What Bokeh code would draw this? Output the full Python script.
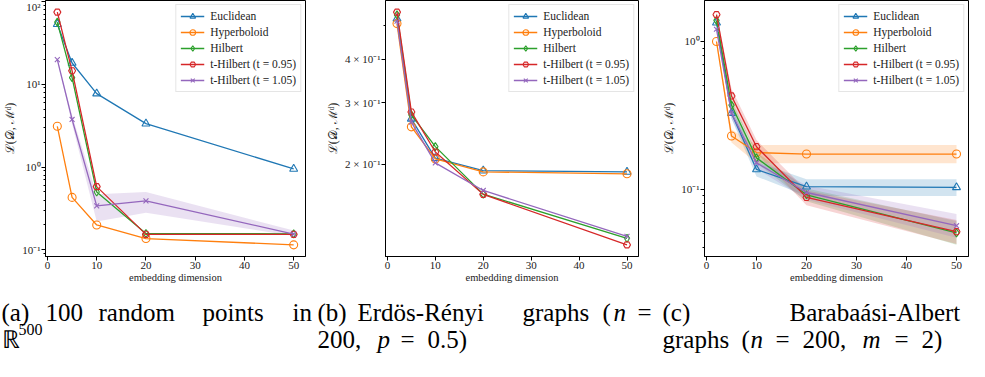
from bokeh.plotting import figure
from bokeh.models import Range1d, FixedTicker, ColumnDataSource, LabelSet
from bokeh.layouts import column, row
from bokeh.embed import file_html
from bokeh.resources import INLINE
from bokeh.core.properties import value
import math

# ---------------- data ----------------
dims = [2, 5, 10, 20, 50]
series_names = ["Euclidean", "Hyperboloid", "Hilbert",
                "t-Hilbert (t = 0.95)", "t-Hilbert (t = 1.05)"]

# (a) 100 random points
a_euclid = [53, 18, 7.7, 3.34, 0.95]
a_hyper = [3.1, 0.43, 0.2, 0.137, 0.115]
a_hilbert = [56, 12, 0.5, 0.158, 0.156]
a_t095 = [74, 14.5, 0.58, 0.154, 0.154]
a_t105 = [19.8, 3.75, 0.34, 0.39, 0.155]
a_t105_lo = [19.0, 3.3, 0.22, 0.28, 0.147]
a_t105_hi = [20.6, 4.2, 0.47, 0.50, 0.171]

# (b) Erdos-Renyi graphs
b_euclid = [0.524, 0.270, 0.208, 0.1915, 0.190]
b_hyper = [0.507, 0.256, 0.207, 0.190, 0.1876]
b_hilbert = [0.537, 0.277, 0.2246, 0.164, 0.1224]
b_t095 = [0.547, 0.2825, 0.2167, 0.1637, 0.1172]
b_t105 = [0.515, 0.264, 0.2017, 0.168, 0.124]

# (c) Barabasi-Albert graphs
c_euclid = [1.34, 0.327, 0.136, 0.104, 0.103]
c_hyper = [1.0, 0.229, 0.177, 0.173, 0.173]
c_hilbert = [1.39, 0.371, 0.163, 0.0917, 0.0506]
c_t095 = [1.52, 0.428, 0.194, 0.088, 0.0516]
c_t105 = [1.21, 0.327, 0.151, 0.095, 0.0566]
c_euclid_lo = [1.30, 0.30, 0.122, 0.090, 0.090]
c_euclid_hi = [1.38, 0.36, 0.153, 0.117, 0.117]
c_hyper_lo = [0.95, 0.207, 0.150, 0.150, 0.150]
c_hyper_hi = [1.05, 0.254, 0.199, 0.199, 0.199]
c_hilbert_lo = [1.34, 0.34, 0.150, 0.083, 0.042]
c_hilbert_hi = [1.44, 0.40, 0.178, 0.101, 0.061]
c_t095_lo = [1.46, 0.381, 0.175, 0.078, 0.0425]
c_t095_hi = [1.58, 0.478, 0.215, 0.098, 0.062]
c_t105_lo = [1.16, 0.30, 0.138, 0.085, 0.047]
c_t105_hi = [1.26, 0.355, 0.165, 0.106, 0.068]

x_ticks = [0, 10, 20, 30, 40, 50]

a_yticks = [0.1, 1, 10, 100]
a_ytick_labels = ["10⁻¹", "10⁰", "10¹", "10²"]
b_yticks = [0.2, 0.3, 0.4]
b_ytick_labels = ["2 × 10⁻¹", "3 × 10⁻¹", "4 × 10⁻¹"]
c_yticks = [0.1, 1]
c_ytick_labels = ["10⁻¹", "10⁰"]

x_label = "embedding dimension"
y_label = "ℒ(𝒟, ℳᵈ)"

cap_words = ["(a)", "100", "random", "points", "in", "ℝ", "500",
             "(b)", "Erdös-Rényi", "graphs", "(", "n", "=", "200,", "p", "=", "0.5)",
             "(c)", "Barabaási-Albert", "graphs", "(", "n", "=", "200,", "m", "=", "2)"]

# ---------------- styles / layout ----------------
colors = ["#1f77b4", "#ff7f0e", "#2ca02c", "#d62728", "#9467bd"]
markers = ["triangle", "circle", "diamond", "hex", "x"]
msizes = [8, 8, 8, 7, 7]
SERIF = "Liberation Serif"

ROW_H = 285
CAP_H = 74
cap_italic = {"n", "p", "m"}
cap_page_x = [9, 53, 106, 210, 300, 9, 26,
              325, 365, 530, 610, 621, 645, 325, 385, 408, 435,
              670, 797, 670, 749, 758, 783, 810, 870, 902, 929]
line1_y, line2_y, sup_y = 328, 355, 342
cap_page_y = [line1_y] * 5 + [line2_y, sup_y] + \
             [line1_y] * 6 + [line2_y] * 4 + \
             [line1_y] * 2 + [line2_y] * 8


def minor_ticks(lo, hi):
    out = []
    for e in range(-3, 3):
        for m in range(2, 10):
            v = m * 10.0 ** e
            if lo <= v <= hi:
                out.append(v)
    return out


def make_panel(series, bands, yticks, ylabels, width, bl, br):
    allv = [v for s in series for v in s]
    for b in bands:
        if b is not None:
            allv += b[0] + b[1]
    lmin, lmax = math.log10(min(allv)), math.log10(max(allv))
    m = 0.05 * (lmax - lmin)
    y0, y1 = 10 ** (lmin - m), 10 ** (lmax + m)
    xm = 0.05 * (max(dims) - min(dims))

    p = figure(width=width, height=ROW_H, y_axis_type="log", title=None,
               x_range=Range1d(min(dims) - xm, max(dims) + xm),
               y_range=Range1d(y0, y1),
               output_backend="svg", toolbar_location=None,
               min_border_left=bl, min_border_right=br,
               min_border_top=0, min_border_bottom=25)
    p.xgrid.visible = False
    p.ygrid.visible = False
    p.outline_line_color = "black"
    p.outline_line_width = 1
    p.background_fill_color = "white"
    p.border_fill_color = "white"

    for i, b in enumerate(bands):
        if b is not None:
            p.varea(x=dims, y1=b[0], y2=b[1], fill_color=colors[i], fill_alpha=0.2)
    for i, s in enumerate(series):
        src = ColumnDataSource(dict(x=dims, y=s))
        p.line("x", "y", source=src, line_color=colors[i], line_width=1.3,
               legend_label=series_names[i])
        p.scatter("x", "y", source=src, marker=markers[i], size=msizes[i],
                  line_color=colors[i], fill_color=None, line_width=1.1,
                  legend_label=series_names[i])

    p.xaxis.ticker = FixedTicker(ticks=x_ticks)
    mt = [v for v in minor_ticks(y0, y1) if v not in yticks]
    p.yaxis.ticker = FixedTicker(ticks=yticks, minor_ticks=mt)
    p.yaxis.major_label_overrides = {t: l for t, l in zip(yticks, ylabels)}
    for ax in (p.xaxis[0], p.yaxis[0]):
        ax.axis_line_color = "black"
        ax.major_tick_line_color = "black"
        ax.minor_tick_line_color = "black"
        ax.major_tick_in = 0
        ax.minor_tick_in = 0
        ax.major_tick_out = 4
        ax.minor_tick_out = 2
        ax.major_label_text_font = SERIF
        ax.major_label_text_font_size = "11px"
        ax.major_label_text_color = "#222222"
        ax.major_label_standoff = 1
        ax.axis_label_text_font = SERIF
        ax.axis_label_text_font_style = "normal"
        ax.axis_label_text_color = "#222222"
    p.xaxis.minor_tick_line_color = None
    p.xaxis.axis_label = x_label
    p.xaxis.axis_label_text_font_size = "10.5px"
    p.xaxis.axis_label_standoff = 0
    p.yaxis.axis_label = y_label
    p.yaxis.axis_label_text_font_size = "12px"
    p.yaxis.axis_label_standoff = 2

    lg = p.legend[0]
    lg.location = "top_right"
    lg.margin = 4
    lg.padding = 4
    lg.spacing = 2
    lg.label_height = 14
    lg.glyph_height = 14
    lg.glyph_width = 24
    lg.label_standoff = 6
    lg.label_text_font = SERIF
    lg.label_text_font_size = "11.5px"
    lg.label_text_color = "#222222"
    lg.border_line_color = "#cccccc"
    lg.border_line_width = 1
    lg.background_fill_alpha = 0.85
    return p


pa = make_panel([a_euclid, a_hyper, a_hilbert, a_t095, a_t105],
                [None, None, None, None, (a_t105_lo, a_t105_hi)],
                a_yticks, a_ytick_labels, 322, 41, 17)
pb = make_panel([b_euclid, b_hyper, b_hilbert, b_t095, b_t105],
                [None] * 5, b_yticks, b_ytick_labels, 330, 59, 14)
pc = make_panel([c_euclid, c_hyper, c_hilbert, c_t095, c_t105],
                [(c_euclid_lo, c_euclid_hi), (c_hyper_lo, c_hyper_hi),
                 (c_hilbert_lo, c_hilbert_hi), (c_t095_lo, c_t095_hi),
                 (c_t105_lo, c_t105_hi)],
                c_yticks, c_ytick_labels, 317, 52, 1)

# captions
cap_top = 8 + ROW_H
cap = figure(width=969, height=CAP_H, x_range=Range1d(0, 969), y_range=Range1d(CAP_H, 0),
             title=None, x_axis_location=None, y_axis_location=None,
             output_backend="svg", toolbar_location=None,
             min_border=0, min_border_left=0, min_border_right=0,
             min_border_top=0, min_border_bottom=0)
cap.grid.visible = False
cap.outline_line_color = None
csrc = ColumnDataSource(dict(
    x=[v - 8 for v in cap_page_x],
    y=[v - cap_top for v in cap_page_y],
    t=cap_words,
    st=["italic" if w in cap_italic else "normal" for w in cap_words],
    fs=["16px" if w == "500" else "25px" for w in cap_words],
))
cap.add_layout(LabelSet(x="x", y="y", text="t", source=csrc, text_font=value(SERIF),
                        text_font_style="st", text_font_size="fs", text_color="black",
                        text_align="left", text_baseline="alphabetic"))

layout = column(row(pa, pb, pc, spacing=0), cap, spacing=0)
open("out.html", "w").write(file_html(layout, INLINE))
